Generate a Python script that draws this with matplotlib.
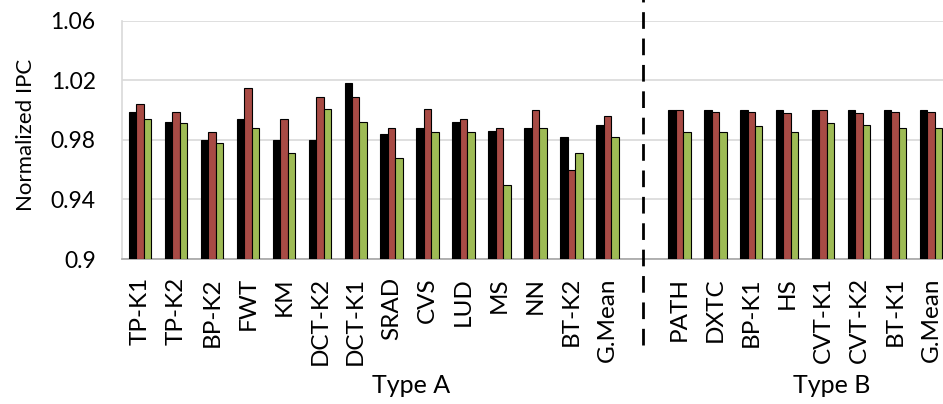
import numpy as np
import matplotlib
matplotlib.use("Agg")
import matplotlib.pyplot as plt
from matplotlib.transforms import blended_transform_factory

plt.rcParams["font.family"] = ["Lato", "DejaVu Sans"]

# Benchmarks (empty slot separates the two groups)
type_a = ["TP-K1", "TP-K2", "BP-K2", "FWT", "KM", "DCT-K2", "DCT-K1", "SRAD",
          "CVS", "LUD", "MS", "NN", "BT-K2", "G.Mean"]
type_b = ["PATH", "DXTC", "BP-K1", "HS", "CVT-K1", "CVT-K2", "BT-K1", "G.Mean"]

# Normalized IPC for the three configurations
base_a = [0.999, 0.992, 0.980, 0.994, 0.980, 0.980, 1.018, 0.984,
          0.988, 0.992, 0.986, 0.988, 0.982, 0.990]
red_a = [1.004, 0.999, 0.985, 1.015, 0.994, 1.009, 1.009, 0.988,
         1.001, 0.994, 0.988, 1.000, 0.960, 0.996]
green_a = [0.994, 0.991, 0.978, 0.988, 0.971, 1.001, 0.992, 0.968,
           0.985, 0.985, 0.950, 0.988, 0.971, 0.982]

base_b = [1.000, 1.000, 1.000, 1.000, 1.000, 1.000, 1.000, 1.000]
red_b = [1.000, 0.999, 0.999, 0.998, 1.000, 0.998, 0.999, 0.999]
green_b = [0.985, 0.985, 0.989, 0.985, 0.991, 0.990, 0.988, 0.988]

labels = type_a + [""] + type_b
black_vals = base_a + [np.nan] + base_b
red_vals = red_a + [np.nan] + red_b
green_vals = green_a + [np.nan] + green_b

x = np.arange(len(labels))
w = 0.208

fig = plt.figure(figsize=(9.43, 4.04), dpi=100)
ax = fig.add_axes([0.1294, 0.3589, 0.877, 0.590])

for off, vals, col in [(-w, black_vals, "#000000"),
                       (0, red_vals, "#A84B45"),
                       (w, green_vals, "#9EBB55")]:
    ax.bar(x + off, np.array(vals) - 0.9, bottom=0.9, width=w, color=col,
           edgecolor="black", linewidth=0.8, zorder=3)

ax.set_xlim(-0.5, len(labels) - 0.5)
ax.set_ylim(0.9, 1.06)
ax.set_yticks([0.9, 0.94, 0.98, 1.02, 1.06])
ax.set_yticklabels(["0.9", "0.94", "0.98", "1.02", "1.06"])
ax.yaxis.grid(True, color="#D9D9D9", linewidth=1.2, zorder=0)
ax.set_axisbelow(True)

ax.set_xticks(x)
ax.set_xticklabels(labels, rotation=90, fontsize=17.5)
ax.tick_params(axis="x", length=0, pad=13)
ax.tick_params(axis="y", length=0, pad=19, labelsize=16.5)

for s in ["top", "right"]:
    ax.spines[s].set_visible(False)
ax.spines["left"].set_color("#D9D9D9")
ax.spines["bottom"].set_color("#A6A6A6")
ax.spines["left"].set_linewidth(1.2)
ax.spines["bottom"].set_linewidth(1.2)

ax.set_ylabel("Normalized IPC", fontsize=16)
ax.yaxis.set_label_coords(-0.104, 0.52)

# Separator between the two benchmark groups
tr = blended_transform_factory(ax.transData, ax.transAxes)
ax.plot([14, 14], [-0.36, 1.09], transform=tr, color="black", linewidth=2,
        linestyle=(0, (6, 3.5)), clip_on=False, zorder=4)

ax.text(7.55, -0.562, "Type A", transform=tr, ha="center", va="baseline", fontsize=18)
ax.text(19.25, -0.562, "Type B", transform=tr, ha="center", va="baseline", fontsize=18)

fig.savefig("out.png", dpi=100)
